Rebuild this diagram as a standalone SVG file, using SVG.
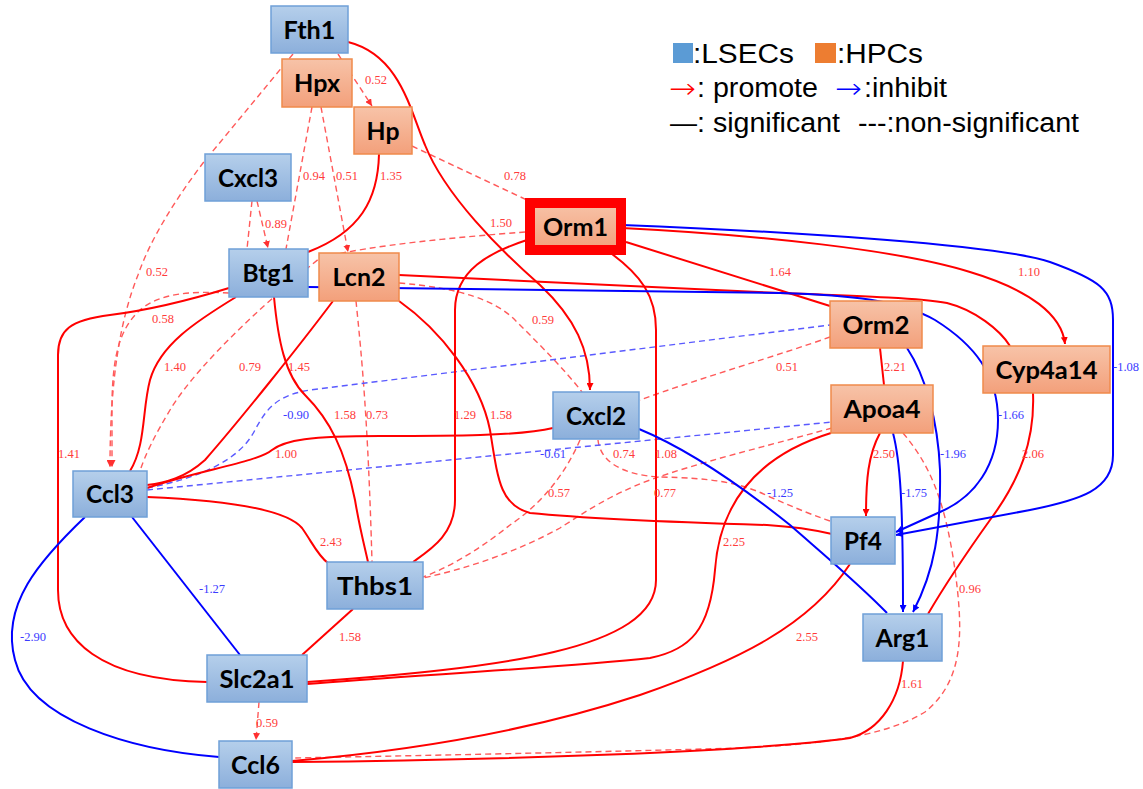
<svg xmlns="http://www.w3.org/2000/svg" width="1143" height="789" viewBox="0 0 1143 789">
<style>
.s{fill:none;stroke:#ff0000;stroke-width:2}
.sb{fill:none;stroke:#0000ff;stroke-width:2}
.d{fill:none;stroke:#ff5a5a;stroke-width:1.4;stroke-dasharray:6 4}
.db{fill:none;stroke:#5a5aff;stroke-width:1.4;stroke-dasharray:6 4}
.lr{fill:#ff3b3b;font-family:"Liberation Serif",serif;font-size:12.5px;text-anchor:middle}
.lb{fill:#3b3bff;font-family:"Liberation Serif",serif;font-size:12.5px;text-anchor:middle}
.nb{fill:url(#gb);stroke:#6fa0d8;stroke-width:1.5}
.no{fill:url(#go);stroke:#f08a4b;stroke-width:1.5}
.nt{font-family:Lato,"Open Sans",sans-serif;font-weight:bold;font-size:25px;fill:#000;text-anchor:middle}
.lg{font-family:"Liberation Sans",Arial,sans-serif;font-size:27px;fill:#000}
.ar{font-family:"DejaVu Sans",sans-serif;font-size:28px;font-weight:200}
</style>
<defs>
<linearGradient id="gb" x1="0" y1="0" x2="0" y2="1"><stop offset="0" stop-color="#b5cfeb"/><stop offset="1" stop-color="#8cafdb"/></linearGradient>
<linearGradient id="go" x1="0" y1="0" x2="0" y2="1"><stop offset="0" stop-color="#f7c3a8"/><stop offset="1" stop-color="#f3a07b"/></linearGradient>
<marker id="ar" viewBox="0 0 8 8" refX="8" refY="4" markerWidth="7" markerHeight="7" markerUnits="userSpaceOnUse" orient="auto"><path d="M0,0 L8,4 L0,8 z" fill="#ff0000"/></marker>
<marker id="ard" viewBox="0 0 8 8" refX="8" refY="4" markerWidth="7" markerHeight="7" markerUnits="userSpaceOnUse" orient="auto"><path d="M0,0 L8,4 L0,8 z" fill="#ff3030"/></marker>
<marker id="ab" viewBox="0 0 8 8" refX="8" refY="4" markerWidth="7" markerHeight="7" markerUnits="userSpaceOnUse" orient="auto"><path d="M0,0 L8,4 L0,8 z" fill="#0000ff"/></marker>
</defs>
<rect width="1143" height="789" fill="#fff"/>

<g id="connectors">
<!-- dashed red -->
<path class="d" d="M338,54 L372,106" marker-end="url(#ard)"/>
<path class="d" d="M293,54 L203,163 C175,200 150,240 138,275 C120,320 110,380 110,467" marker-end="url(#ard)"/>
<path class="d" d="M312,107 L286,249"/>
<path class="d" d="M321,107 L348,252" marker-end="url(#ard)"/>
<path class="d" d="M252,201 L247,249"/>
<path class="d" d="M257,201 L268,248" marker-end="url(#ard)"/>
<path class="d" d="M412,146 L527,200"/>
<path class="d" d="M525,232 C460,237 370,245 320,258 C280,290 200,360 170,410 C155,435 145,455 140,471"/>
<path class="d" d="M229,293 C190,291 160,293 140,310 C118,330 113,360 112,400 L112,467" marker-end="url(#ard)"/>
<path class="d" d="M356,301 C362,360 368,420 372,562"/>
<path class="d" d="M399,283 C460,288 495,300 515,320 C540,345 565,370 582,392"/>
<path class="d" d="M830,337 C780,355 700,378 640,400"/>
<path class="d" d="M598,440 C600,460 620,475 660,477 C710,478 740,482 770,497 C800,510 815,516 833,522"/>
<path class="d" d="M580,440 C565,475 540,505 510,525 C485,545 455,565 423,577"/>
<path class="d" d="M832,428 C760,448 700,462 650,480 C610,495 585,512 560,528 C520,550 470,568 423,578"/>
<path class="d" d="M903,433 C930,465 945,500 955,570 C963,630 965,680 925,712 C880,740 800,745 740,748 C600,752 400,756 292,758"/>
<path class="d" d="M259,702 L256,740" marker-end="url(#ard)"/>
<!-- dashed blue -->
<path class="db" d="M147,488 C200,478 240,460 255,430 C268,405 280,395 310,390 L830,325"/>
<path class="db" d="M147,490 L832,422"/>
<!-- solid red -->
<path class="s" d="M348,42 C400,55 410,110 425,145 C445,195 500,250 540,285 C575,318 590,350 590,390" marker-end="url(#ar)"/>
<path class="s" d="M379,154 C378,200 360,232 308,252"/>
<path class="s" d="M527,240 C490,252 455,270 455,310 L455,500 C455,535 430,550 413,562"/>
<path class="s" d="M612,254 C640,275 656,295 656,330 L656,580 C656,650 500,668 307,682"/>
<path class="s" d="M831,433 C760,455 720,500 715,570 C710,630 690,650 650,658 C560,668 400,676 307,684"/>
<path class="s" d="M626,242 L830,306"/>
<path class="s" d="M622,228 C760,235 900,250 970,272 C1030,290 1062,315 1065,344" marker-end="url(#ar)"/>
<path class="s" d="M399,275 L780,293 C860,296 920,298 947,303 C975,310 1000,330 1010,346"/>
<path class="s" d="M399,301 C440,330 480,380 490,430 C498,480 500,505 530,513 C600,520 700,523 767,525 C800,527 815,530 832,534"/>
<path class="s" d="M333,301 C300,345 240,420 205,460 C185,478 165,483 147,485"/>
<path class="s" d="M553,428 C520,436 450,436 380,436 C310,436 285,440 272,450 C258,462 200,470 147,488"/>
<path class="s" d="M147,497 C220,500 285,508 302,528 C312,542 318,556 328,563"/>
<path class="s" d="M229,288 C190,300 150,310 110,315 C70,320 58,330 58,355 L58,590 C58,640 100,680 207,682"/>
<path class="s" d="M236,297 C195,322 160,345 150,380 C142,410 146,445 130,471"/>
<path class="s" d="M274,297 C278,340 285,375 305,395 C330,420 345,450 355,500 C360,530 365,548 368,562"/>
<path class="s" d="M353,609 L302,655"/>
<path class="s" d="M880,348 L884,385"/>
<path class="s" d="M880,433 C868,455 866,480 866,516" marker-end="url(#ar)"/>
<path class="s" d="M850,564 C810,625 740,660 640,695 C540,728 420,750 292,761"/>
<path class="s" d="M903,661 C900,700 880,730 850,738 C750,752 500,760 292,762"/>
<path class="s" d="M1033,393 C1035,440 1020,480 990,520 C965,555 945,585 928,614"/>
<!-- solid blue -->
<path class="sb" d="M622,225 C800,232 1000,245 1050,262 C1100,280 1113,290 1113,320 L1113,455 C1113,490 1080,500 1030,510 L896,535" marker-end="url(#ab)"/>
<path class="sb" d="M308,287 L780,293 C850,295 900,300 935,320 C975,345 998,375 998,420 C998,465 975,497 940,512 L896,532" marker-end="url(#ab)"/>
<path class="sb" d="M639,429 C690,450 740,485 790,525 C830,560 860,585 887,613"/>
<path class="sb" d="M907,348 C925,375 938,420 940,470 C941,530 935,570 913,612" marker-end="url(#ab)"/>
<path class="sb" d="M893,433 C900,460 903,500 903,612" marker-end="url(#ab)"/>
<path class="sb" d="M132,517 L240,655"/>
<path class="sb" d="M85,517 C40,560 0,605 15,660 C30,720 130,750 219,757"/>
</g>

<g id="labels">
<text class="lr" x="376" y="84">0.52</text>
<text class="lr" x="314" y="180">0.94</text>
<text class="lr" x="347" y="180">0.51</text>
<text class="lr" x="391" y="180">1.35</text>
<text class="lr" x="515" y="180">0.78</text>
<text class="lr" x="276" y="228">0.89</text>
<text class="lr" x="501" y="227">1.50</text>
<text class="lr" x="157" y="276">0.52</text>
<text class="lr" x="780" y="276">1.64</text>
<text class="lr" x="1029" y="276">1.10</text>
<text class="lr" x="163" y="323">0.58</text>
<text class="lr" x="543" y="324">0.59</text>
<text class="lr" x="175" y="371">1.40</text>
<text class="lr" x="250" y="371">0.79</text>
<text class="lr" x="299" y="371">1.45</text>
<text class="lr" x="787" y="371">0.51</text>
<text class="lr" x="895" y="371">2.21</text>
<text class="lr" x="345" y="419">1.58</text>
<text class="lr" x="377" y="419">0.73</text>
<text class="lr" x="465" y="419">1.29</text>
<text class="lr" x="501" y="419">1.58</text>
<text class="lr" x="69" y="458">1.41</text>
<text class="lr" x="286" y="458">1.00</text>
<text class="lr" x="624" y="458">0.74</text>
<text class="lr" x="666" y="458">1.08</text>
<text class="lr" x="884" y="458">2.50</text>
<text class="lr" x="1033" y="458">2.06</text>
<text class="lr" x="559" y="497">0.57</text>
<text class="lr" x="665" y="497">0.77</text>
<text class="lr" x="331" y="546">2.43</text>
<text class="lr" x="734" y="546">2.25</text>
<text class="lr" x="970" y="593">0.96</text>
<text class="lr" x="350" y="641">1.58</text>
<text class="lr" x="807" y="641">2.55</text>
<text class="lr" x="912" y="688">1.61</text>
<text class="lr" x="267" y="727">0.59</text>
<text class="lb" x="1126" y="371">-1.08</text>
<text class="lb" x="296" y="419">-0.90</text>
<text class="lb" x="1011" y="419">-1.66</text>
<text class="lb" x="553" y="458">-0.61</text>
<text class="lb" x="953" y="458">-1.96</text>
<text class="lb" x="780" y="497">-1.25</text>
<text class="lb" x="914" y="497">-1.75</text>
<text class="lb" x="212" y="593">-1.27</text>
<text class="lb" x="33" y="641">-2.90</text>
</g>

<g id="node-Fth1"><rect class="nb" x="271" y="6" width="77" height="47"/><text class="nt" x="309.5" y="38.5" textLength="52" lengthAdjust="spacingAndGlyphs">Fth1</text></g>
<g id="node-Hpx"><rect class="no" x="282" y="59" width="70" height="48"/><text class="nt" x="317" y="92" textLength="46" lengthAdjust="spacingAndGlyphs">Hpx</text></g>
<g id="node-Hp"><rect class="no" x="354" y="107" width="58" height="47"/><text class="nt" x="383" y="139.5" textLength="33" lengthAdjust="spacingAndGlyphs">Hp</text></g>
<g id="node-Cxcl3"><rect class="nb" x="205" y="154" width="86" height="47"/><text class="nt" x="248" y="186.5" textLength="60" lengthAdjust="spacingAndGlyphs">Cxcl3</text></g>
<g id="node-Btg1"><rect class="nb" x="229" y="249" width="79" height="48"/><text class="nt" x="268.5" y="282" textLength="52" lengthAdjust="spacingAndGlyphs">Btg1</text></g>
<g id="node-Lcn2"><rect class="no" x="319" y="253" width="80" height="48"/><text class="nt" x="359" y="286" textLength="53" lengthAdjust="spacingAndGlyphs">Lcn2</text></g>
<g id="node-Orm1"><rect x="530" y="203" width="91" height="47" fill="url(#go)" stroke="#ff0000" stroke-width="10"/><text class="nt" x="575.5" y="235.5" textLength="65" lengthAdjust="spacingAndGlyphs">Orm1</text></g>
<g id="node-Cxcl2"><rect class="nb" x="553" y="392" width="86" height="47"/><text class="nt" x="596" y="424.5" textLength="60" lengthAdjust="spacingAndGlyphs">Cxcl2</text></g>
<g id="node-Orm2"><rect class="no" x="830" y="301" width="92" height="47"/><text class="nt" x="876" y="333.5" textLength="67" lengthAdjust="spacingAndGlyphs">Orm2</text></g>
<g id="node-Apoa4"><rect class="no" x="831" y="385" width="102" height="48"/><text class="nt" x="882" y="418" textLength="77" lengthAdjust="spacingAndGlyphs">Apoa4</text></g>
<g id="node-Cyp4a14"><rect class="no" x="983" y="346" width="127" height="47"/><text class="nt" x="1046.5" y="378.5" textLength="102" lengthAdjust="spacingAndGlyphs">Cyp4a14</text></g>
<g id="node-Pf4"><rect class="nb" x="831" y="517" width="64" height="47"/><text class="nt" x="863" y="549.5" textLength="38" lengthAdjust="spacingAndGlyphs">Pf4</text></g>
<g id="node-Arg1"><rect class="nb" x="863" y="614" width="79" height="47"/><text class="nt" x="902.5" y="646.5" textLength="54" lengthAdjust="spacingAndGlyphs">Arg1</text></g>
<g id="node-Ccl3"><rect class="nb" x="73" y="471" width="74" height="46"/><text class="nt" x="110" y="503" textLength="48" lengthAdjust="spacingAndGlyphs">Ccl3</text></g>
<g id="node-Thbs1"><rect class="nb" x="327" y="562" width="96" height="47"/><text class="nt" x="375" y="594.5" textLength="76" lengthAdjust="spacingAndGlyphs">Thbs1</text></g>
<g id="node-Slc2a1"><rect class="nb" x="207" y="655" width="100" height="47"/><text class="nt" x="257" y="687.5" textLength="75" lengthAdjust="spacingAndGlyphs">Slc2a1</text></g>
<g id="node-Ccl6"><rect class="nb" x="219" y="741" width="73" height="47"/><text class="nt" x="255.5" y="773.5" textLength="49" lengthAdjust="spacingAndGlyphs">Ccl6</text></g>

<g id="legend">
<rect x="673" y="43" width="20" height="20" fill="#5b9bd5"/>
<text class="lg" x="693" y="63" textLength="101" lengthAdjust="spacingAndGlyphs">:LSECs</text>
<rect x="815" y="43" width="21" height="20" fill="#ed7d31"/>
<text class="lg" x="837" y="63" textLength="86" lengthAdjust="spacingAndGlyphs">:HPCs</text>
<text class="ar" x="669" y="98" style="fill:#ff0000" textLength="27" lengthAdjust="spacingAndGlyphs">→</text>
<text class="lg" x="697" y="97" textLength="121" lengthAdjust="spacingAndGlyphs">: promote</text>
<text class="ar" x="835" y="98" style="fill:#0000ff" textLength="27" lengthAdjust="spacingAndGlyphs">→</text>
<text class="lg" x="864" y="97" textLength="83" lengthAdjust="spacingAndGlyphs">:inhibit</text>
<text class="lg" x="670" y="132" textLength="27" lengthAdjust="spacingAndGlyphs">—</text>
<text class="lg" x="697" y="132" textLength="143" lengthAdjust="spacingAndGlyphs">: significant</text>
<text class="lg" x="858" y="132" textLength="221" lengthAdjust="spacingAndGlyphs">---:non-significant</text>
</g>
</svg>
